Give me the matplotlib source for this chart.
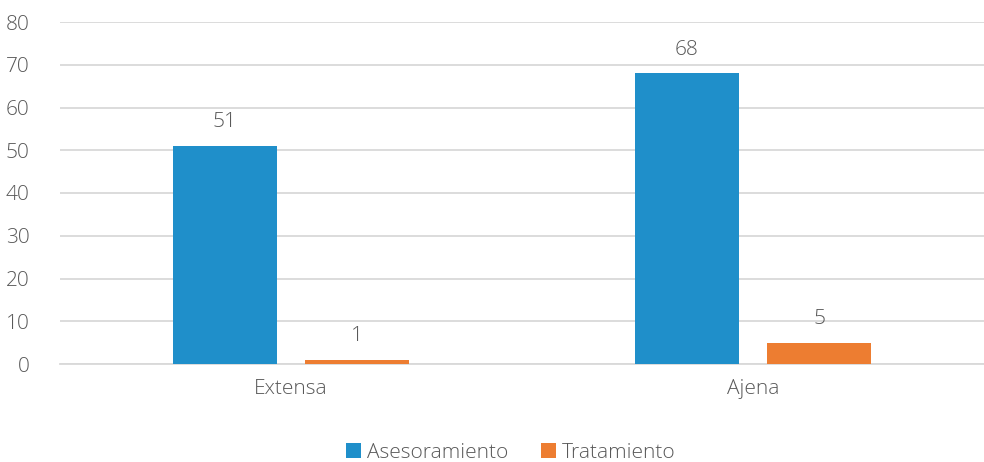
import numpy as np
import matplotlib.pyplot as plt

plt.rcParams['font.family'] = ['Open Sans', 'DejaVu Sans']

categorias = ['Extensa', 'Ajena']
asesoramiento = [51, 68]
tratamiento = [1, 5]

azul = '#1F8FCA'
naranja = '#ED7D31'
gris_texto = '#595959'

fig = plt.figure(figsize=(9.84, 4.62), dpi=100)
ax = fig.add_axes([60/984, 98/462, 924/984, 342/462])

x = np.arange(len(categorias))
ancho = 0.225
b1 = ax.bar(x - 0.143, asesoramiento, ancho, color=azul, label='Asesoramiento', zorder=3)
b2 = ax.bar(x + 0.143, tratamiento, ancho, color=naranja, label='Tratamiento', zorder=3)

for barras in (b1, b2):
    for b in barras:
        ax.text(b.get_x() + b.get_width()/2, b.get_height() + 3.2, f'{b.get_height():g}',
                ha='center', va='bottom', fontsize=15, color=gris_texto, fontweight='light')

ax.set_xlim(-0.5, 1.5)
ax.set_ylim(0, 80)
ax.set_yticks(range(0, 81, 10))
ax.set_xticks(x)
ax.set_xticklabels(categorias, fontweight='light')
for t in ax.get_yticklabels():
    t.set_fontweight('light')
ax.tick_params(axis='both', length=0, labelsize=15, colors=gris_texto)
ax.tick_params(axis='y', pad=22)
ax.tick_params(axis='x', pad=11)
ax.grid(axis='y', color='#D9D9D9', linewidth=1.3, zorder=0)
for s in ['top', 'right', 'left']:
    ax.spines[s].set_visible(False)
ax.spines['bottom'].set_color('#D9D9D9')
ax.spines['bottom'].set_linewidth(1.3)

leg = ax.legend(loc='center', bbox_to_anchor=(0.5 - 11/924, -0.26), ncol=2, frameon=False,
                fontsize=15, handlelength=0.7, handleheight=0.7, handletextpad=0.3,
                columnspacing=1.6)
for t in leg.get_texts():
    t.set_color(gris_texto)
    t.set_fontweight('light')

fig.savefig('out.png', dpi=100)
